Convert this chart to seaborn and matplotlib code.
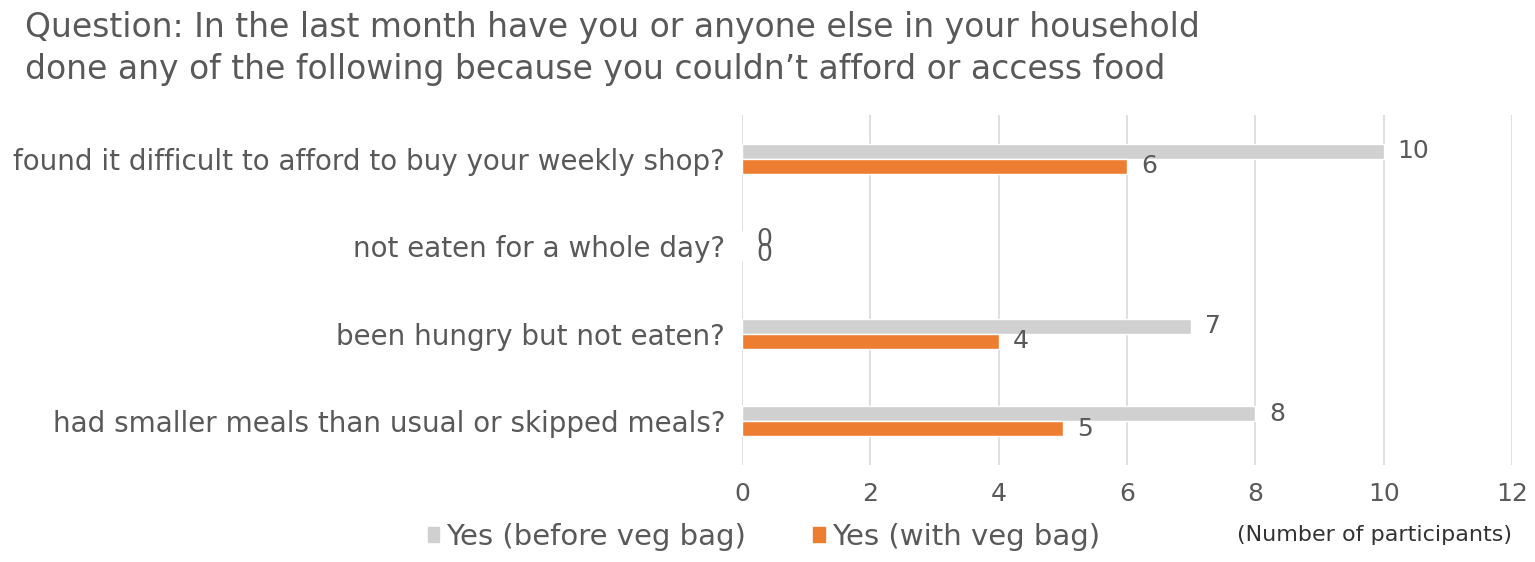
import matplotlib
matplotlib.use("Agg")
import matplotlib.pyplot as plt
import seaborn as sns
import pandas as pd
from matplotlib.patches import Patch

questions = [
    "found it difficult to afford to buy your weekly shop?",
    "not eaten for a whole day?",
    "been hungry but not eaten?",
    "had smaller meals than usual or skipped meals?",
]
before_vals = [10, 0, 7, 8]
with_vals = [6, 0, 4, 5]
series = ["Yes (before veg bag)", "Yes (with veg bag)"]
colors = ["#D0D0D0", "#ED7D31"]
xticks = [0, 2, 4, 6, 8, 10, 12]

df = pd.DataFrame({
    "question": questions * 2,
    "value": before_vals + with_vals,
    "series": [series[0]] * 4 + [series[1]] * 4,
})

sns.set_theme(style="white")
plt.rcParams["font.family"] = ["DejaVu Sans"]
text_color = "#595959"

fig = plt.figure(figsize=(15.35, 5.62), dpi=100)
ax = fig.add_axes([742 / 1535, 1 - 465 / 562, (1512 - 742) / 1535, (465 - 115) / 562])

sns.barplot(data=df, y="question", x="value", hue="series", hue_order=series,
            palette=colors, orient="h", width=0.34, ax=ax, legend=False,
            order=questions, saturation=1)

for cont in ax.containers:
    ax.bar_label(cont, padding=10, fontsize=18, color=text_color)

ax.set_xlim(0, 12)
ax.set_xticks(xticks)
ax.set_xticklabels([str(t) for t in xticks], fontsize=18, color=text_color)
ax.set_ylabel("")
ax.set_xlabel("")
ax.tick_params(axis="y", labelsize=20, labelcolor=text_color, length=0, pad=12)
ax.tick_params(axis="x", length=0, pad=12)
ax.grid(axis="x", color="#D9D9D9", linewidth=1.2)
ax.set_axisbelow(True)
for s in ax.spines.values():
    s.set_visible(False)

fig.text(25 / 1535, 1 - 28 / 562,
         "Question: In the last month have you or anyone else in your household",
         fontsize=23.8, color=text_color, va="center", ha="left")
fig.text(25 / 1535, 1 - 70 / 562,
         "done any of the following because you couldn\u2019t afford or access food",
         fontsize=23.8, color=text_color, va="center", ha="left")

handles = [Patch(color=c, label=l) for c, l in zip(colors, series)]
leg = fig.legend(handles=handles, loc="center", bbox_to_anchor=(764 / 1535, 1 - 537 / 562),
                 ncol=2, frameon=False, fontsize=21, handlelength=0.4, handleheight=0.4,
                 handletextpad=0.25, columnspacing=2.3)
for t in leg.get_texts():
    t.set_color(text_color)

fig.text(1512 / 1535, 1 - 535 / 562, "(Number of participants)", fontsize=16,
         color="#333333", ha="right", va="center")

fig.savefig("out.png", dpi=100)
